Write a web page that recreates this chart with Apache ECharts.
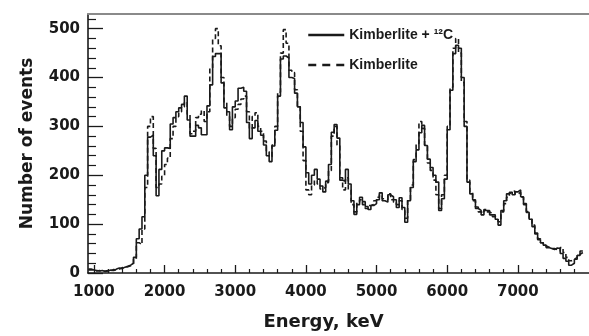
<!DOCTYPE html>
<html><head><meta charset="utf-8">
<script src="https://cdn.jsdelivr.net/npm/echarts@6/dist/echarts.min.js"></script>
<style>html,body{margin:0;padding:0;background:#fff}#c{width:589px;height:336px}</style>
</head><body><div id="c"></div>
<script>
// Histogram bins: 40 keV wide, first bin starts at 920 keV
const binStart = 920;
const binWidth = 40;

// "Kimberlite + 12C" (solid)
const withCarbon = [
  8,6,5,4,5,3,4,6,5,8,                 // 920-1280
  10,9,12,14,16,20,32,70,90,115,       // 1320-1680
  200,278,282,240,158,212,250,256,255,305, // 1720-2080
  318,330,338,345,362,313,280,280,302,297, // 2120-2480
  283,283,342,385,443,449,449,389,338,330, // 2520-2880
  293,340,352,378,380,372,308,275,297,312, // 2920-3280
  290,282,262,240,228,260,292,362,438,444, // 3320-3680
  440,400,398,368,340,308,258,205,182,200, // 3720-4080
  212,192,178,166,188,222,288,304,276,190, // 4120-4480
  188,212,182,148,120,140,155,146,136,130, // 4520-4880
  138,142,150,164,148,145,160,156,150,134, // 4920-5280
  154,134,104,148,175,228,252,287,302,261, // 5320-5680
  233,216,200,186,128,152,192,293,374,449, // 5720-6080
  466,460,400,300,186,162,150,132,128,119, // 6120-6480
  128,128,119,119,110,98,128,148,162,166,  // 6520-6880
  160,166,170,156,140,124,110,95,80,68,    // 6920-7280
  62,57,52,50,48,51,50,40,30,24,           // 7320-7680
  16,20,28,36,45                           // 7720-7880
];

// "Kimberlite" (dashed)
const kimberlite = [
  6,7,4,5,3,4,5,4,7,6,
  8,11,10,13,15,18,28,62,58,90,
  175,300,320,255,175,182,198,222,235,275,
  300,320,330,340,350,325,285,290,318,325,
  332,310,330,420,480,500,465,400,348,320,
  300,318,335,345,356,362,330,295,320,328,
  300,290,270,248,238,262,300,370,450,498,
  470,415,410,375,340,290,230,170,160,180,
  190,182,172,175,185,210,280,300,262,195,
  170,195,170,140,125,145,150,140,132,138,
  140,148,155,160,152,150,162,150,145,140,
  148,130,112,150,180,232,265,310,296,262,
  225,210,190,160,132,160,200,300,380,460,
  480,450,390,310,190,165,148,135,125,122,
  130,125,122,115,112,105,125,142,155,165,
  168,162,165,155,142,126,112,98,82,70,
  62,56,53,50,50,48,45,52,42,32,
  25,28,32,38,42
];

const seriesNames = ['Kimberlite + \u00B9\u00B2C', 'Kimberlite'];
const xMajorTicks = [1000,2000,3000,4000,5000,6000,7000];
const xMinorTicks = [1200,1400,1600,1800,2200,2400,2600,2800,3200,3400,3600,3800,
  4200,4400,4600,4800,5200,5400,5600,5800,6200,6400,6600,6800,7200,7400,7600,7800];
const yMajorTicks = [0,100,200,300,400,500];
const yMinorTicks = [20,40,60,80,120,140,160,180,220,240,260,280,320,340,360,380,420,440,460,480,520];
const xName = 'Energy, keV';
const yName = 'Number of events';

function toSteps(values) {
  const pts = values.map((v, i) => [binStart + i * binWidth, v]);
  pts.push([binStart + values.length * binWidth, values[values.length - 1]]);
  return pts;
}

const X_MIN = 916, X_MAX = 8007, Y_MIN = 0, Y_MAX = 530;
const ink = '#1a1a1a';
const tickFont = { fontFamily: 'DejaVu Sans', fontWeight: 'bold', fontSize: 15, color: ink };
const plain = v => String(v);

const chart = echarts.init(document.getElementById('c'), null, { renderer: 'canvas' });
chart.setOption({
  animation: false,
  backgroundColor: '#fff',
  grid: { left: 88, top: 14, right: -6, bottom: 60, containLabel: false },
  legend: {
    orient: 'vertical', left: 302, top: 23,
    itemWidth: 36, itemHeight: 14, itemGap: 16,
    itemStyle: { opacity: 0 },
    textStyle: { fontFamily: 'Liberation Sans', fontWeight: 'bold', fontSize: 14, color: ink },
    data: [
      { name: seriesNames[0], lineStyle: { width: 2.5, color: ink } },
      { name: seriesNames[1], lineStyle: { width: 2.5, color: ink, type: [8, 6] } }
    ]
  },
  xAxis: [
    {
      type: 'value', min: X_MIN, max: X_MAX, position: 'bottom',
      axisLine: { show: true, onZero: false, lineStyle: { color: ink, width: 1.6 } },
      axisTick: { show: true, inside: true, length: 8, customValues: xMajorTicks, lineStyle: { color: ink, width: 1.3 } },
      axisLabel: Object.assign({ show: true, customValues: xMajorTicks, margin: 12, formatter: plain }, tickFont),
      splitLine: { show: false },
      name: xName, nameLocation: 'middle', nameGap: 40,
      nameTextStyle: { fontFamily: 'DejaVu Sans', fontWeight: 'bold', fontSize: 18, color: ink, padding: [0, 30, 0, 0] }
    },
    {
      type: 'value', min: X_MIN, max: X_MAX, position: 'bottom',
      axisLine: { show: false, onZero: false },
      axisTick: { show: true, inside: true, length: 4, customValues: xMinorTicks, lineStyle: { color: ink, width: 1.2 } },
      axisLabel: { show: false }, splitLine: { show: false }
    },
    {
      type: 'value', min: X_MIN, max: X_MAX, position: 'top',
      axisLine: { show: true, onZero: false, lineStyle: { color: '#8a8a8a', width: 2 } },
      axisTick: { show: false }, axisLabel: { show: false }, splitLine: { show: false }
    }
  ],
  yAxis: [
    {
      type: 'value', min: Y_MIN, max: Y_MAX, position: 'left',
      axisLine: { show: true, onZero: false, lineStyle: { color: ink, width: 1.6 } },
      axisTick: { show: true, inside: true, length: 15, customValues: yMajorTicks, lineStyle: { color: ink, width: 1.3 } },
      axisLabel: Object.assign({ show: true, customValues: yMajorTicks, margin: 8, formatter: plain }, tickFont),
      splitLine: { show: false },
      name: yName, nameLocation: 'middle', nameGap: 52, nameRotate: 90,
      nameTextStyle: { fontFamily: 'DejaVu Sans', fontWeight: 'bold', fontSize: 17, color: ink }
    },
    {
      type: 'value', min: Y_MIN, max: Y_MAX, position: 'left',
      axisLine: { show: false, onZero: false },
      axisTick: { show: true, inside: true, length: 8, customValues: yMinorTicks, lineStyle: { color: ink, width: 1.2 } },
      axisLabel: { show: false }, splitLine: { show: false }
    }
  ],
  series: [
    {
      name: seriesNames[1], type: 'line', step: 'end', symbol: 'none',
      xAxisIndex: 0, yAxisIndex: 0,
      data: toSteps(kimberlite),
      itemStyle: { color: ink },
      lineStyle: { color: ink, width: 1.6, type: [5, 3] }
    },
    {
      name: seriesNames[0], type: 'line', step: 'end', symbol: 'none',
      xAxisIndex: 0, yAxisIndex: 0,
      data: toSteps(withCarbon),
      itemStyle: { color: ink },
      lineStyle: { color: ink, width: 1.6 }
    }
  ]
});
</script></body></html>
